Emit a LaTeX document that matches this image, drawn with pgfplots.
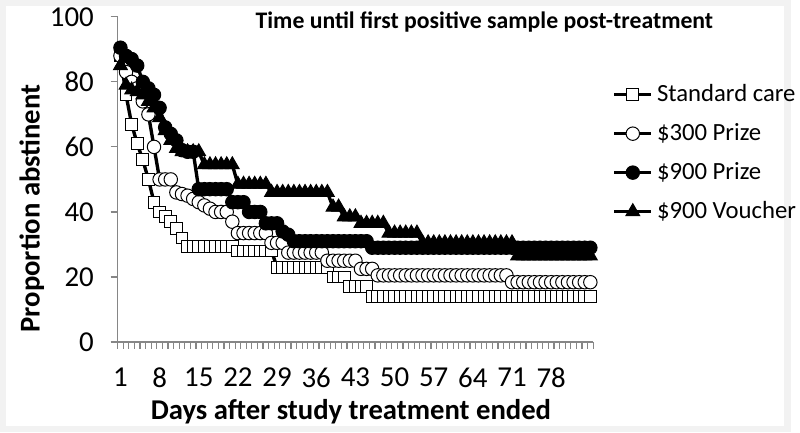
\documentclass[border=0pt]{standalone}
\usepackage{pgfplots}
\usepackage{pgfplotstable}
\pgfplotsset{compat=1.18}
\usepackage{fontspec}
\setmainfont{Carlito}
\definecolor{axgray}{RGB}{134,134,134}
\definecolor{bggray}{RGB}{242,242,242}
\pgfplotstableread{
day sc p300 p900 v900
1 88 88 90.5 85
2 76 83 88 79
3 67 80 87 77.5
4 61 78 85 77
5 56 74 80 76
6 50 70 78 74
7 43 60 76 72
8 40 50 72 69
9 38.5 50 66 65
10 37 50 64 62
11 35 46 62 59.5
12 32 45.5 59 58.5
13 29.5 45 58.5 58.5
14 29.5 44 58.5 58.5
15 29.5 43 47 58.5
16 29.5 42 47 54.5
17 29.5 41 47 54.5
18 29.5 40 47 54.5
19 29.5 40 47 54.5
20 29.5 40 47 54.5
21 29.5 37 43 54.5
22 28 33.5 43 48.5
23 28 33.5 43 48.5
24 28 33.5 40 48.5
25 28 33.5 40 48.5
26 28 33.5 40 48.5
27 28 33.5 36.5 48.5
28 28 30.5 36.5 46
29 23 30.5 36.5 46
30 23 30.5 34 46
31 23 27.5 33 46
32 23 27.5 31 46
33 23 27.5 31 46
34 23 27.5 31 46
35 23 27.5 31 46
36 23 27.5 31 46
37 23 27.5 31 46
38 23 25 31 46
39 20 25 31 41.5
40 20 25 31 41.5
41 20 25 31 38.5
42 17 25 31 38.5
43 17 25 31 38.5
44 17 22.5 31 36.5
45 17 22.5 31 36.5
46 14 22.5 29 36.5
47 14 20.5 29 36.5
48 14 20.5 29 36.5
49 14 20.5 29 33.5
50 14 20.5 29 33.5
51 14 20.5 29 33.5
52 14 20.5 29 33.5
53 14 20.5 29 33.5
54 14 20.5 29 33.5
55 14 20.5 29 30.5
56 14 20.5 29 30.5
57 14 20.5 29 30.5
58 14 20.5 29 30.5
59 14 20.5 29 30.5
60 14 20.5 29 30.5
61 14 20.5 29 30.5
62 14 20.5 29 30.5
63 14 20.5 29 30.5
64 14 20.5 29 30.5
65 14 20.5 29 30.5
66 14 20.5 29 30.5
67 14 20.5 29 30.5
68 14 20.5 29 30.5
69 14 20.5 29 30.5
70 14 20.5 29 30.5
71 14 18.4 29 30.5
72 14 18.4 29 26.5
73 14 18.4 29 26.5
74 14 18.4 29 26.5
75 14 18.4 29 26.5
76 14 18.4 29 26.5
77 14 18.4 29 26.5
78 14 18.4 29 26.5
79 14 18.4 29 26.5
80 14 18.4 29 26.5
81 14 18.4 29 26.5
82 14 18.4 29 26.5
83 14 18.4 29 26.5
84 14 18.4 29 26.5
85 14 18.4 29 26.5
}\datatable
\begin{document}
\begin{tikzpicture}
\fill[bggray] (0,0) rectangle (400pt,218.5pt);
\fill[white] (3pt,3pt) rectangle (396.5pt,215.5pt);
\begin{axis}[
  at={(59.5pt,45.5pt)}, anchor=south west,
  scale only axis, width=240.5pt, height=164.5pt,
  xmin=0.5, xmax=85.5, ymin=0, ymax=100,
  axis x line*=bottom, axis y line*=left,
  axis line style={axgray, line width=0.7pt},
  tick style={axgray, line width=0.6pt},
  tick align=outside, major tick length=3.5pt,
  xtick={0.5,1.5,...,85.5}, xticklabels={},
  extra x ticks={1,8,15,22,29,36,43,50,57,64,71,78},
  extra x tick labels={1,8,15,22,29,36,43,50,57,64,71,78},
  extra x tick style={major tick length=0pt},
  ytick={0,20,...,100},
  /pgf/number format/assume math mode=true,
  ticklabel style={font=\fontsize{14.6}{17}\selectfont},
  xticklabel style={yshift=-9.5pt},
  yticklabel style={xshift=-5pt},
  clip=false,
  legend style={at={(1.04,0.805)}, anchor=north west, draw=none, fill=none,
    font=\fontsize{12.5}{15}\selectfont, row sep=5.6pt, inner sep=0pt},
  legend cell align=left,
  legend image code/.code={\draw[mark repeat=2,mark phase=2] plot coordinates {(0cm,0cm) (0.33cm,0cm) (0.66cm,0cm)};},
]
\addplot[black, line width=1.7pt, mark=square*, mark size=3pt, mark options={solid, fill=white, draw=black, line width=0.5pt}] table[x=day, y=sc] {\datatable};
\addlegendentry{Standard care}
\addplot[black, line width=1.7pt, mark=*, mark size=3.4pt, mark options={solid, fill=white, draw=black, line width=0.5pt}] table[x=day, y=p300] {\datatable};
\addlegendentry{\$300 Prize}
\addplot[black, line width=1.7pt, mark=*, mark size=3.4pt, mark options={solid, fill=black, draw=black, line width=0.5pt}] table[x=day, y=p900] {\datatable};
\addlegendentry{\$900 Prize}
\addplot[black, line width=1.7pt, mark=triangle*, mark size=4pt, mark options={solid, fill=black, draw=black, line width=0.5pt}] table[x=day, y=v900] {\datatable};
\addlegendentry{\$900 Voucher}
\end{axis}
\node[font=\bfseries\fontsize{12}{14}\selectfont] at (245pt,207.5pt) {Time until first positive sample post-treatment};
\node[font=\bfseries\fontsize{14.5}{17}\selectfont, anchor=base] at (177.5pt,6.5pt) {Days after study treatment ended};
\node[font=\bfseries\fontsize{14.5}{17}\selectfont, rotate=90, anchor=base] at (20pt,113pt) {Proportion abstinent};
\end{tikzpicture}
\end{document}
